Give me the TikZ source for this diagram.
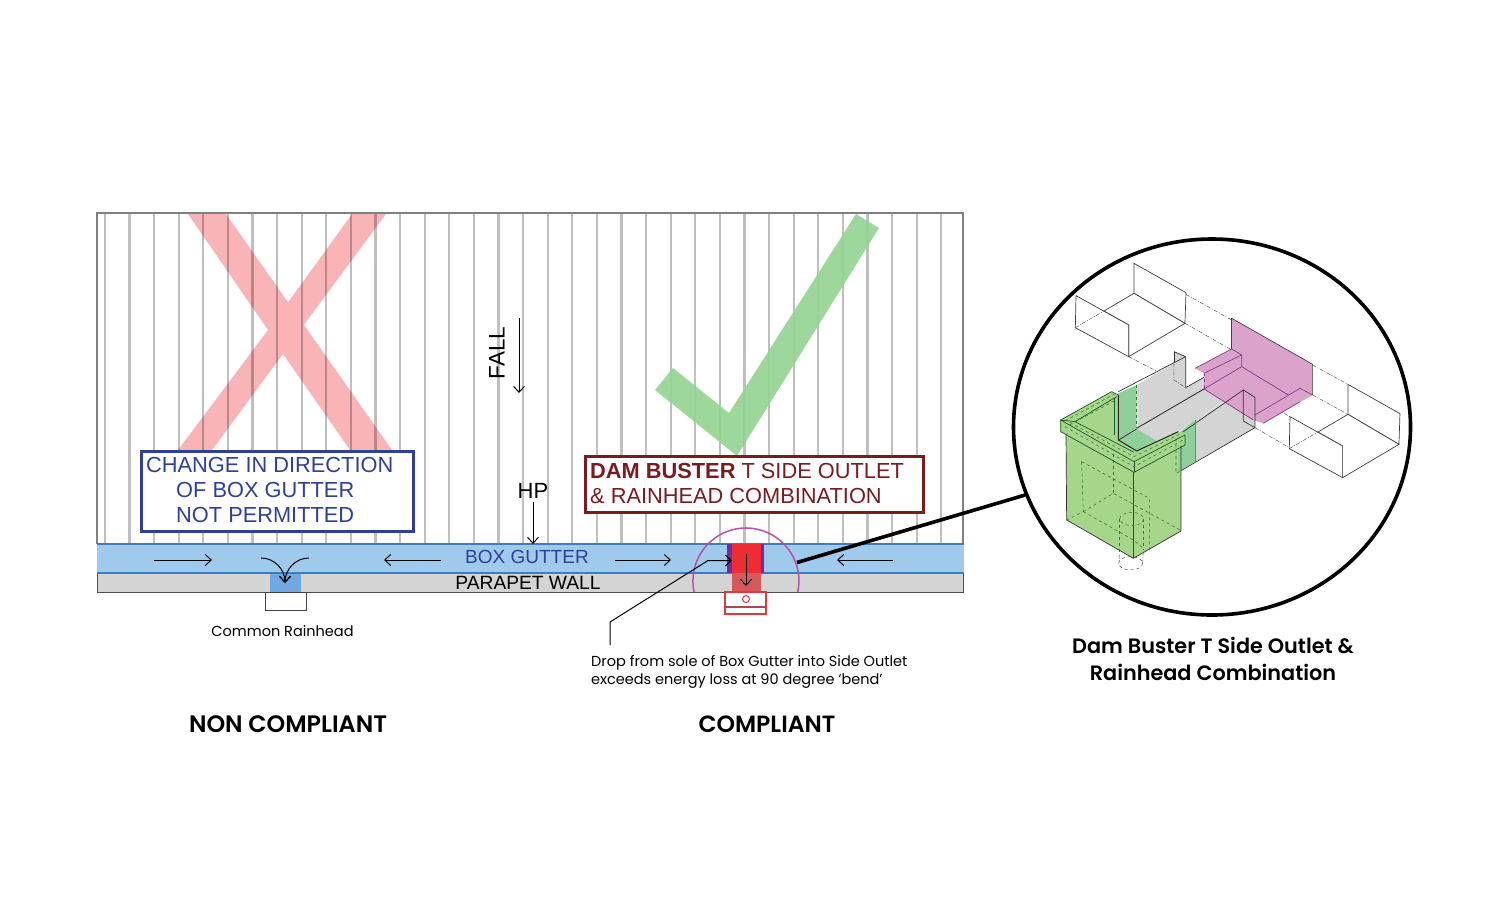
\documentclass[tikz,border=0pt]{standalone}
\usepackage{fontspec}
\setmainfont{Liberation Sans}
\newfontfamily\geo{Poppins}
\newfontfamily\geobold{Poppins SemiBold}
\usetikzlibrary{arrows.meta, shapes.geometric}

\definecolor{roofline}{HTML}{000000}
\definecolor{crosspink}{HTML}{F9B4B8}
\definecolor{tickgreen}{HTML}{92D390}
\definecolor{gutterblue}{HTML}{9FCAEC}
\definecolor{gutteredge}{HTML}{3C7DC2}
\definecolor{sumpblue}{HTML}{70A8DF}
\definecolor{wallgrey}{HTML}{D4D4D4}
\definecolor{noteblue}{HTML}{2F409C}
\definecolor{notered}{HTML}{7A1B20}
\definecolor{arcpink}{HTML}{B650A8}
\definecolor{outletred}{HTML}{EE2D32}
\definecolor{droppedred}{HTML}{D65A5C}
\definecolor{headred}{HTML}{E0383C}
\definecolor{boxgreen}{HTML}{A6D68A}
\definecolor{sidegreen}{HTML}{8FD09A}
\definecolor{linegreen}{HTML}{2C7A3C}
\definecolor{purplefill}{HTML}{DBA2CC}
\definecolor{purpleline}{HTML}{8A3A85}

\newcommand{\Tray}{
    \draw[trayline, fill=white] (372,85) -- (528,173) -- (525,265) -- (372,175) -- cycle;
    \draw[trayline, fill=white] (372,175) -- (282,228) -- (356,270) -- (356,365) -- (525,265) -- (372,175);
    \draw[trayline, fill=white] (198,182) -- (356,270) -- (356,365) -- (196,278) -- cycle;
    \draw[axis] (196,278) -- (282,228);
}

\tikzset{
    flow/.style={-{Straight Barb[length=6pt, width=11pt]}, line width=1pt, black},
    notebox/.style={draw, line width=3pt, fill=white},
    label/.style={font=\fontsize{#1}{#1}\selectfont, inner sep=0pt},
    geolabel/.style={font=\geo\fontsize{#1}{#1}\selectfont, inner sep=0pt},
    headlabel/.style={font=\geobold\fontsize{#1}{#1}\selectfont, inner sep=0pt},
    axis/.style={line width=0.5pt, black!65, dash pattern=on 4pt off 1.5pt on 1pt off 1.5pt},
    hidden/.style={line width=0.55pt, linegreen, dashed},
    trayline/.style={line width=0.7pt, black!75},
    edge/.style={line width=0.7pt, black!80},
    rimline/.style={line width=0.7pt, linegreen!70!black},
}

\begin{document}
\begin{tikzpicture}[x=1pt, y=-1pt]
    \useasboundingbox (0,0) rectangle (1500,903);

    % cross
    \fill[crosspink] (188,214) -- (226,214) -- (392,450) -- (350,450) -- (283,354)
        -- (212,450) -- (178,450) -- (268,330) -- cycle;
    \fill[crosspink] (268,330) -- (352,214) -- (386,214) -- (300,330) -- (283,354) -- cycle;

    % roof sheets
    \foreach \i in {0,...,34}
        \draw[roofline, opacity=0.25, line width=2.2pt] (104.8+24.6*\i,213) -- (104.8+24.6*\i,544);
    \draw[black!50, line width=1.3pt] (97,544) -- (97,213) -- (963,213) -- (963,544);

    % tick
    \fill[tickgreen, fill opacity=0.9] (856,214) -- (879,228) -- (737,456) -- (655,390) -- (673,368) -- (729,413) -- cycle;

    % gutter and wall
    \draw[wallgrey, fill=wallgrey] (97,573) rectangle (963,592);
    \draw[black!70, line width=1pt] (97,573) -- (97,592) -- (963,592) -- (963,573);
    \fill[gutterblue] (97,544) rectangle (964,573);
    \draw[gutteredge, line width=1.2pt] (97,544) -- (964,544) (97,573) -- (964,573);
    \node[label=19, text=noteblue] (gutter) at (527,557) {BOX GUTTER};
    \node[label=19.2] (wall) at (528,582.5) {PARAPET WALL};

    % non-compliant outlet
    \fill[sumpblue] (270,573.5) rectangle (301,592);
    \draw[black!75, fill=white] (265.5,592) rectangle (306,610);
    \coordinate (sump) at (285,583);
    \draw[flow] (154,560) -- (212,560);
    \draw[flow] (441,560) -- (384,560);
    \draw[flow] (261,558) to[out=0, in=90] (sump);
    \draw[flow] (309,558) to[out=180, in=90] (sump);
    \node[geolabel=14.5] (rainhead) at (282.5,631) {Common Rainhead};

    % compliant outlet
    \fill[purpleline!80!blue] (727,544) rectangle (764,573);
    \fill[outletred] (732,544) rectangle (761,573);
    \fill[droppedred] (732,573) rectangle (761,592);
    \draw[headred, fill=white, line width=1.2pt] (725,592) rectangle (766,614);
    \draw[droppedred!80!black, line width=1.1pt] (725,607) -- (766,607);
    \draw[headred, line width=1pt] (746,599) circle (3.5);
    \draw[arcpink, line width=1.5pt] (797.8,592) arc[start angle=12, end angle=-192, radius=53];
    \draw[flow] (615,560) -- (671,560);
    \draw[flow] (893,560) -- (837,560);
    \draw[flow] (746,554) -- (746,586);
    \draw[flow] (610,645) -- (610,622) -- (708,560.5) -- (732,560.5);
    \node[geolabel=14.5, anchor=base west] (drop) at (591,666) {Drop from sole of Box Gutter into Side Outlet};
    \node[geolabel=14.5, anchor=base west] (loss) at (591,684) {exceeds energy loss at 90 degree ‘bend’};

    % fall and high point
    \draw[flow] (519,318) -- (519,393);
    \node[label=22.5, rotate=90] (fall) at (497,353) {FALL};
    \node[label=22] (hp) at (533,491) {HP};
    \draw[flow] (hp.south) ++(0,3) -- (533,544);

    % note boxes
    \node[notebox, draw=noteblue, minimum width=272pt, minimum height=80pt] (change) at (277,491) {};
    \node[label=21.8, text=noteblue, anchor=base west] (change1) at (146,472) {CHANGE IN DIRECTION};
    \node[label=21.8, text=noteblue, anchor=base west] (change2) at (176,497) {OF BOX GUTTER};
    \node[label=21.8, text=noteblue, anchor=base west] (change3) at (176,522) {NOT PERMITTED};
    \node[notebox, draw=notered, minimum width=338pt, minimum height=56pt] (dam) at (754,484) {};
    \node[label=21.8, text=notered, anchor=base west] (dam1) at (590,478) {\textbf{DAM BUSTER} T SIDE OUTLET};
    \node[label=21.8, text=notered, anchor=base west] (dam2) at (590,503) {\& RAINHEAD COMBINATION};

    % titles
    \node[headlabel=23.8] (noncomp) at (288,724) {NON COMPLIANT};
    \node[headlabel=23.5] (comp) at (767,724) {COMPLIANT};
    \node[headlabel=20.8] (title1) at (1213,645) {Dam Buster T Side Outlet \&};
    \node[headlabel=20.8] (title2) at (1213,672) {Rainhead Combination};

    % detail circle
    \node[ellipse, draw, line width=3.6pt, fill=white, minimum width=397pt, minimum height=376pt, inner sep=0pt] (lens) at (1212,427) {};
    \coordinate (outlet) at (797,562.5);
    \draw[line width=3.6pt] (outlet) -- (lens.200);

    \begin{scope}[shift={(1010,235)}, x=0.3333pt, y=-0.3333pt]
        % trays
        \Tray
        \begin{scope}[shift={(642,363)}]
            \Tray
        \end{scope}

        % axis lines
        \draw[axis] (528,178) -- (665,255);
        \draw[axis] (525,265) -- (665,345);
        \draw[axis] (356,365) -- (500,440);
        \draw[axis] (908,390) -- (1014,448);
        \draw[axis] (908,480) -- (1014,538);
        \draw[axis] (735,578) -- (838,638);
        \draw[axis] (760,500) -- (840,545);

        % grey gutter
        \fill[wallgrey] (380,450) -- (492,385) -- (492,350) -- (527,365) -- (527,458) -- (582,427)
            -- (582,462) -- (385,578) -- cycle;
        \fill[wallgrey] (325,615) -- (582,462) -- (640,500) -- (555,555) -- (505,592) -- (440,618) -- (380,648) -- cycle;
        \fill[wallgrey] (555,555) -- (700,465) -- (735,487) -- (735,578) -- (555,680) -- cycle;
        \draw[edge] (492,350) -- (527,365) -- (527,458) -- (582,427);
        \draw[edge] (492,350) -- (492,385);
        \draw[axis] (492,385) -- (492,435) -- (527,458);

        % pink outlet
        \fill[purplefill] (665,250) -- (908,388) -- (908,480) -- (760,565) -- (730,555) -- (582,462)
            -- (582,415) -- (555,400) -- (665,342) -- cycle;
        \draw[purpleline, line width=0.7pt] (665,342) -- (695,360) -- (695,395) -- (582,462);
        \draw[purpleline, line width=0.7pt] (555,400) -- (665,342);
        \draw[purpleline, line width=0.7pt] (582,415) -- (695,360);
        \draw[purpleline, line width=0.7pt] (695,395) -- (835,480);
        \draw[purpleline, line width=0.7pt] (582,462) -- (730,555);
        \draw[purpleline, line width=0.7pt] (735,540) -- (870,460) -- (908,480);
        \draw[purpleline, line width=0.7pt] (760,565) -- (870,500);
        \draw[purpleline, line width=0.6pt, dashed] (582,415) -- (582,462);
        \draw[trayline] (665,250) -- (908,388) -- (908,480);
        \draw[trayline] (665,250) -- (665,342);
        \draw[edge] (700,465) -- (735,487) -- (735,578) -- (700,558) -- cycle;

        % green rainhead
        \fill[boxgreen] (168,590) -- (170,855) -- (370,970) -- (513,888) -- (513,632) -- (372,640) -- cycle;
        \fill[sidegreen] (325,475) -- (380,450) -- (380,580) -- (325,612) -- cycle;
        \fill[sidegreen] (325,615) -- (385,585) -- (440,618) -- (380,648) -- cycle;
        \fill[sidegreen] (505,595) -- (555,555) -- (555,680) -- (505,710) -- cycle;
        \fill[boxgreen] (152,555) -- (305,470) -- (325,480) -- (325,615) -- (380,648) -- (505,590) -- (525,600)
            -- (525,630) -- (372,712) -- (152,590) -- cycle;

        % gutter edges
        \draw[edge] (325,470) -- (527,365);
        \draw[edge, line width=0.9pt] (380,580) -- (582,462);
        \draw[edge] (520,590) -- (700,465);
        \draw[edge] (513,707) -- (735,578);
        \draw[line width=0.4pt, black!50] (555,555) -- (555,680);
        \draw[hidden] (380,450) -- (380,580);

        % rainhead edges
        \draw[rimline] (152,555) -- (305,470) -- (325,480);
        \draw[rimline] (152,555) -- (152,590) -- (372,712) -- (525,630) -- (525,600);
        \draw[rimline] (152,555) -- (372,680) -- (525,600);
        \draw[rimline] (195,560) -- (320,485);
        \draw[rimline] (150,555) -- (195,560) -- (372,652);
        \draw[rimline] (312,490) -- (312,600);
        \draw[edge, line width=1pt, black!85] (325,480) -- (325,615) -- (380,648) -- (505,590);
        \draw[edge, line width=0.9pt] (325,615) -- (380,582);
        \draw[rimline] (372,680) -- (372,712);
        \draw[edge] (168,597) -- (170,855) -- (370,970) -- (513,888) -- (513,632);
        \draw[rimline] (370,712) -- (370,970);

        % hidden edges
        \draw[hidden] (165,558) -- (312,478);
        \draw[hidden] (178,570) -- (318,495);
        \draw[hidden] (165,575) -- (372,695) -- (525,612);
        \draw[hidden] (180,563) -- (372,665) -- (510,597);
        \draw[hidden] (215,680) -- (418,790) -- (418,950);
        \draw[hidden] (215,680) -- (220,830) -- (170,855);
        \draw[hidden] (220,830) -- (310,775) -- (510,885);
        \draw[hidden] (310,775) -- (310,650);
        \draw[hidden] (220,830) -- (370,915) -- (400,940);
        \draw[hidden] (365,852) ellipse (36 and 20);
        \draw[hidden] (328,852) -- (328,960);
        \draw[hidden] (400,852) -- (400,945);
        \draw[hidden] (498,610) -- (498,715) -- (513,707);
        % pipe below
        \draw[axis] (328,960) -- (326,985) (400,950) -- (398,985);
        \draw[line width=0.5pt, black!70, dashed] (362,985) ellipse (36 and 20);
    \end{scope}
\end{tikzpicture}
\end{document}
